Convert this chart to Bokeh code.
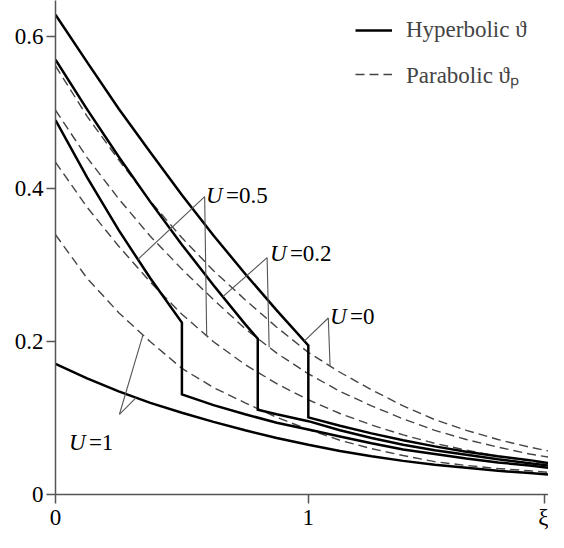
import numpy as np
from bokeh.plotting import figure
from bokeh.models import Range1d, FixedTicker, Label, Legend, LegendItem, ColumnDataSource
from bokeh.embed import file_html
from bokeh.resources import INLINE

# ---------------- data ----------------
# Hyperbolic solution (solid), with jump at the thermal wave front
xi_h_u0 = [0, 0.125, 0.25, 0.375, 0.5, 0.625, 0.75, 0.875, 1.0,
           1.0, 1.125, 1.25, 1.375, 1.5, 1.625, 1.75, 1.875, 1.95]
th_h_u0 = [0.628, 0.566, 0.505, 0.448, 0.392, 0.339, 0.289, 0.241, 0.195,
           0.101, 0.090, 0.080, 0.071, 0.063, 0.056, 0.050, 0.045, 0.041]

xi_h_u02 = [0, 0.125, 0.25, 0.375, 0.5, 0.625, 0.75, 0.8,
            0.8, 0.875, 1.0, 1.125, 1.25, 1.375, 1.5, 1.625, 1.75, 1.875, 1.95]
th_h_u02 = [0.569, 0.504, 0.442, 0.383, 0.327, 0.274, 0.223, 0.204,
            0.111, 0.105, 0.096, 0.084, 0.074, 0.065, 0.058, 0.052, 0.046, 0.041, 0.038]

xi_h_u05 = [0, 0.125, 0.25, 0.375, 0.5,
            0.5, 0.625, 0.75, 0.875, 1.0, 1.125, 1.25, 1.375, 1.5, 1.625, 1.75, 1.875, 1.95]
th_h_u05 = [0.490, 0.415, 0.346, 0.283, 0.225,
            0.131, 0.117, 0.105, 0.094, 0.085, 0.076, 0.067, 0.059, 0.053, 0.047, 0.042, 0.038, 0.035]

xi_h_u1 = [0, 0.125, 0.25, 0.375, 0.5, 0.625, 0.75, 0.875, 1.0,
           1.125, 1.25, 1.375, 1.5, 1.625, 1.75, 1.875, 1.95]
th_h_u1 = [0.171, 0.152, 0.135, 0.120, 0.107, 0.095, 0.084, 0.074, 0.065,
           0.057, 0.050, 0.044, 0.039, 0.035, 0.031, 0.028, 0.026]

# Parabolic solution (dashed)
xi_p = [0, 0.125, 0.25, 0.375, 0.5, 0.625, 0.75, 0.875, 1.0,
        1.125, 1.25, 1.375, 1.5, 1.625, 1.75, 1.875, 1.95]
th_p_u0 = [0.561, 0.495, 0.438, 0.384, 0.336, 0.293, 0.255, 0.219, 0.186,
           0.160, 0.137, 0.116, 0.098, 0.084, 0.072, 0.062, 0.057]
th_p_u02 = [0.503, 0.441, 0.387, 0.338, 0.295, 0.255, 0.217, 0.185, 0.158,
            0.135, 0.116, 0.099, 0.084, 0.072, 0.062, 0.053, 0.049]
th_p_u05 = [0.435, 0.376, 0.325, 0.278, 0.236, 0.200, 0.170, 0.145, 0.124,
            0.106, 0.091, 0.078, 0.067, 0.058, 0.050, 0.044, 0.040]
th_p_u1 = [0.340, 0.283, 0.238, 0.200, 0.165, 0.140, 0.120, 0.101, 0.085,
           0.071, 0.060, 0.051, 0.043, 0.038, 0.034, 0.031, 0.029]

x_ticks = [0, 1, 1.935]
x_tick_labels = ["0", "1", "ξ"]
y_ticks = [0, 0.2, 0.4, 0.6]
y_tick_labels = ["0", "0.2", "0.4", "0.6"]

u_labels = ["=0", "=0.2", "=0.5", "=1"]

# ---------------- styling ----------------
FONT = "Liberation Serif"
FS = "23px"
AXIS_COLOR = "#555555"
DASH_COLOR = "#444444"

p = figure(width=548, height=532, output_backend="svg", toolbar_location=None,
           x_range=Range1d(0, 1.95), y_range=Range1d(0, 0.6466),
           min_border_left=55, min_border_right=0, min_border_top=0,
           min_border_bottom=30)
p.outline_line_color = None
p.xgrid.visible = False
p.ygrid.visible = False
p.background_fill_color = "white"

for ax in (p.xaxis[0], p.yaxis[0]):
    ax.axis_line_color = AXIS_COLOR
    ax.axis_line_width = 1.5
    ax.major_tick_line_color = AXIS_COLOR
    ax.major_tick_line_width = 1.5
    ax.major_tick_out = 9
    ax.major_tick_in = 0
    ax.minor_tick_line_color = None
    ax.major_label_text_font = FONT
    ax.major_label_text_font_size = FS
    ax.major_label_text_color = "black"

p.xaxis[0].ticker = FixedTicker(ticks=x_ticks)
p.xaxis[0].major_label_overrides = {t: s for t, s in zip(x_ticks, x_tick_labels)}
p.xaxis[0].major_label_standoff = 1
p.xaxis[0].major_label_text_line_height = 0.9
p.yaxis[0].ticker = FixedTicker(ticks=y_ticks)
p.yaxis[0].major_label_overrides = {t: s for t, s in zip(y_ticks, y_tick_labels)}
p.yaxis[0].major_label_standoff = 3

# ---------------- curves ----------------
dashed = []
for th in (th_p_u0, th_p_u02, th_p_u05, th_p_u1):
    r = p.line(xi_p, th, line_color=DASH_COLOR, line_width=1.4, line_dash="9 5")
    dashed.append(r)

solid = []
for xs, th in ((xi_h_u0, th_h_u0), (xi_h_u02, th_h_u02),
               (xi_h_u05, th_h_u05), (xi_h_u1, th_h_u1)):
    r = p.line(xs, th, line_color="black", line_width=2.5, line_join="miter")
    solid.append(r)

# ---------------- leader lines + U labels ----------------
ann = [
    (u_labels[2], 0.595, 0.392, 0.590, 0.390,
     [(xi_h_u05, th_h_u05, 0.326), (xi_p, th_p_u05, 0.598)]),
    (u_labels[1], 0.848, 0.315, 0.837, 0.310,
     [(xi_h_u02, th_h_u02, 0.662), (xi_p, th_p_u02, 0.845)]),
    (u_labels[0], 1.086, 0.233, 1.079, 0.231,
     [(xi_h_u0, th_h_u0, 0.984), (xi_p, th_p_u0, 1.086)]),
    (u_labels[3], 0.053, 0.068, 0.253, 0.105,
     [(xi_p, th_p_u1, 0.346), (xi_h_u1, th_h_u1, 0.319)]),
]
x0, y0, x1, y1 = [], [], [], []
for txt, tx, ty, vx, vy, targets in ann:
    for cx, cy, t in targets:
        x0.append(vx)
        y0.append(vy)
        x1.append(t)
        y1.append(float(np.interp(t, cx, cy)))
    p.add_layout(Label(x=tx, y=ty, text="U", text_font=FONT, text_font_size=FS,
                       text_font_style="italic", text_baseline="alphabetic",
                       text_align="left", text_color="black"))
    p.add_layout(Label(x=tx, y=ty, x_offset=20, text=txt, text_font=FONT,
                       text_font_size=FS, text_baseline="alphabetic",
                       text_align="left", text_color="black"))
seg = ColumnDataSource(dict(x0=x0, y0=y0, x1=x1, y1=y1))
p.segment("x0", "y0", "x1", "y1", source=seg, line_color="#555555", line_width=1.1)

# ---------------- legend ----------------
legend = Legend(items=[LegendItem(label="Hyperbolic ϑ", renderers=[solid[0]]),
                       LegendItem(label="Parabolic ϑₚ", renderers=[dashed[0]])],
                location=(300, 404), orientation="vertical")
legend.label_text_font = FONT
legend.label_text_font_size = FS
legend.glyph_width = 37
legend.glyph_height = 26
legend.label_height = 26
legend.label_standoff = 14
legend.spacing = 15
legend.padding = 0
legend.margin = 0
legend.border_line_alpha = 0
legend.background_fill_alpha = 0
p.add_layout(legend)

open("out.html", "w").write(file_html(p, INLINE))
